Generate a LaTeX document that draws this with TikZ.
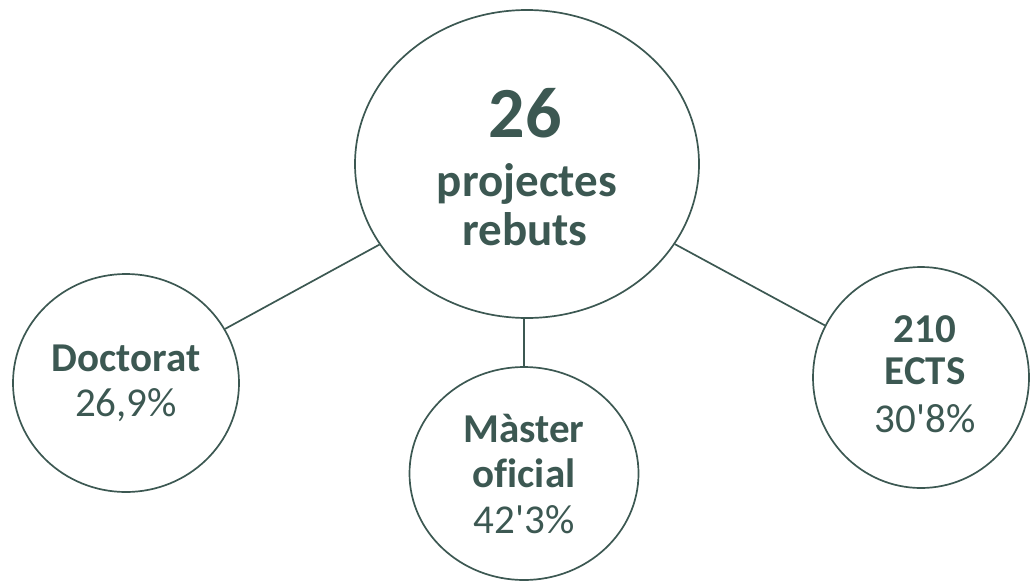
\documentclass[tikz,border=0pt]{standalone}
\usepackage{fontspec}
\setmainfont{Carlito}[Ligatures={NoCommon}]
\usetikzlibrary{shapes.geometric}
\definecolor{ink}{RGB}{60,88,82}
\tikzset{
  bub/.style={ellipse, draw=ink, line width=1.7pt, inner sep=0pt},
  lbl/.style={anchor=base, text=ink, inner sep=0pt},
  link/.style={draw=ink, line width=1.7pt}
}
\begin{document}
\begin{tikzpicture}[x=1pt,y=-1pt]
\useasboundingbox (0,0) rectangle (1030,581);
\node[bub, minimum width=344pt, minimum height=308pt] (big) at (527,164) {};
\node[bub, minimum width=226pt, minimum height=218pt] (left) at (126,383) {};
\node[bub, minimum width=229pt, minimum height=213pt] (mid) at (524,473.5) {};
\node[bub, minimum width=216pt, minimum height=221pt] (right) at (921,377.5) {};
\draw[link] (big) -- (left);
\draw[link] (big) -- (right);
\draw[link] (mid.north) -- (mid.north |- big.south);
% big texts
\node[lbl, font=\fontsize{72}{72}\selectfont\bfseries] (t26) at (525,137) {26};
\node[lbl, font=\fontsize{47}{47}\selectfont\bfseries] (tproj) at (527,196) {projectes};
\node[lbl, font=\fontsize{47}{47}\selectfont\bfseries] (treb) at (525,245) {rebuts};
% left
\node[lbl, font=\fontsize{41}{41}\selectfont\bfseries] (tdoc) at (126,371) {Doctorat};
\node[lbl, font=\fontsize{41}{41}\selectfont] (tdocp) at (126,416) {26,9\%};
% mid
\node[lbl, font=\fontsize{41}{41}\selectfont\bfseries] (tmas) at (524,442) {Màster};
\node[lbl, font=\fontsize{41}{41}\selectfont\bfseries] (tofi) at (524,487) {oficial};
\node[lbl, font=\fontsize{41}{41}\selectfont] (tmasp) at (524,533) {42\textquotesingle3\%};
% right
\node[lbl, font=\fontsize{41}{41}\selectfont\bfseries] (t210) at (925,342) {210};
\node[lbl, font=\fontsize{41}{41}\selectfont\bfseries] (tects) at (925,384) {ECTS};
\node[lbl, font=\fontsize{41}{41}\selectfont] (tectsp) at (925,432) {30\textquotesingle8\%};
\end{tikzpicture}
\end{document}
